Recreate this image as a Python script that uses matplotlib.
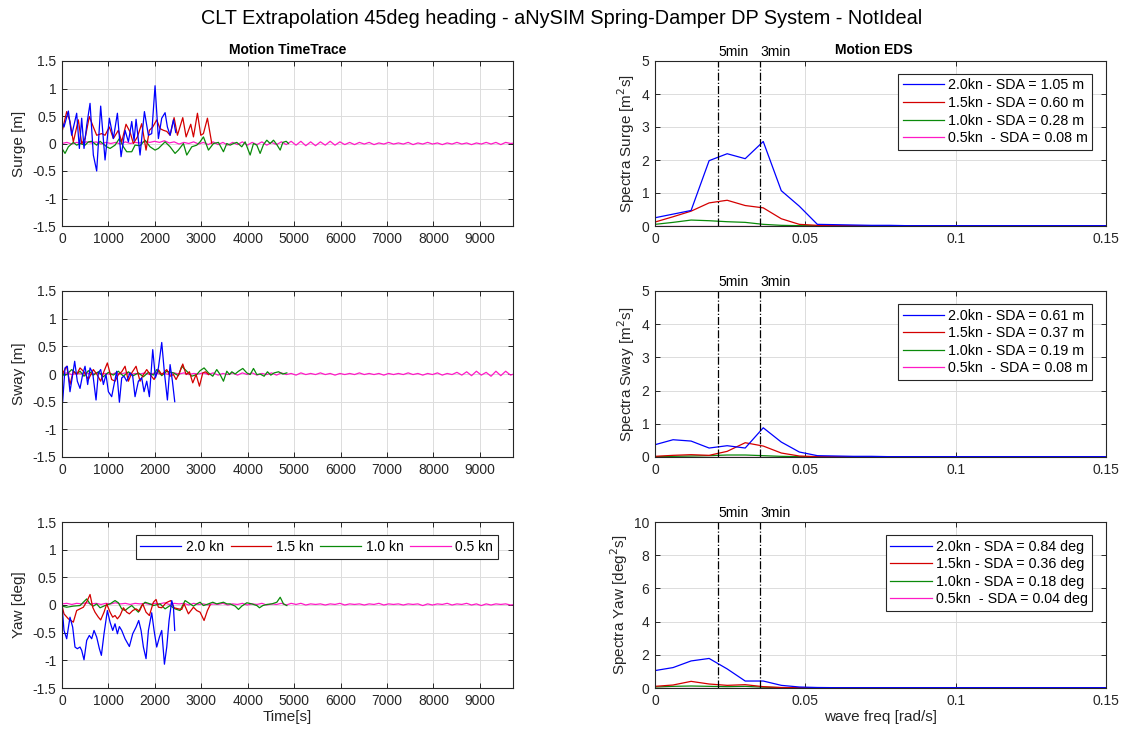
import numpy as np
import matplotlib
matplotlib.use("Agg")
import matplotlib.pyplot as plt
from matplotlib.ticker import FuncFormatter

plt.rcParams['font.family'] = ['Liberation Sans', 'DejaVu Sans']
plt.rcParams['axes.unicode_minus'] = False

# ---------------- time traces ----------------
surge_t_20 = [0, 43, 137, 208, 316, 374, 424, 474, 532, 604, 675, 747, 833, 927, 1020, 1106, 1193, 1272,
              1358, 1430, 1502, 1552, 1595, 1681, 1775, 1861, 1932, 2004, 2076, 2148, 2220, 2270, 2328, 2400, 2450]
surge_v_20 = [0.40, 0.30, 0.59, 0.15, 0.55, -0.09, 0.46, -0.09, 0.33, 0.73, -0.21, -0.50, 0.68, -0.30, 0.46, 0.09,
              0.55, -0.24, 0.24, 0.03, 0.40, 0.05, 0.44, -0.21, 0.58, 0.15, 0.18, 1.05, 0.09, 0.46, 0.56, 0.30,
              0.15, 0.43, 0.20]
surge_t_15 = [0, 101, 172, 244, 352, 424, 496, 589, 675, 747, 855, 927, 1020, 1106, 1214, 1286, 1379, 1465,
              1537, 1624, 1717, 1810, 1882, 1954, 2040, 2112, 2184, 2256, 2328, 2414, 2486, 2601, 2673, 2773,
              2831, 2917, 2989, 3046, 3132, 3226]
surge_v_15 = [0.21, 0.58, 0.40, 0.03, 0.43, 0.00, 0.09, 0.49, 0.30, 0.15, 0.18, 0.15, 0.30, 0.09, 0.24, 0.03,
              0.35, 0.21, 0.00, 0.12, 0.36, -0.12, 0.24, 0.30, 0.43, 0.27, 0.24, 0.22, 0.15, 0.47, 0.15, 0.47,
              0.12, 0.35, 0.12, 0.55, 0.15, 0.18, 0.46, 0.00]
surge_t_10 = [0, 65, 137, 244, 316, 388, 496, 568, 639, 747, 819, 963, 1035, 1142, 1236, 1322, 1394, 1502,
              1573, 1681, 1789, 1897, 2004, 2076, 2148, 2220, 2328, 2435, 2507, 2615, 2687, 2795, 2902, 2974,
              3046, 3154, 3262, 3369, 3477, 3549, 3621, 3693, 3765, 3872, 3944, 4052, 4124, 4196, 4267, 4339,
              4411, 4483, 4555, 4627, 4699, 4756, 4828, 4878]
surge_v_10 = [-0.09, -0.18, -0.06, 0.02, -0.03, 0.00, -0.03, 0.03, 0.04, -0.03, 0.04, -0.06, -0.09, -0.03,
              0.09, -0.06, -0.15, -0.15, -0.03, -0.04, 0.06, -0.06, -0.12, -0.09, -0.03, 0.03, -0.06, -0.18,
              -0.12, 0.00, -0.21, -0.06, -0.03, 0.03, 0.12, -0.12, 0.00, 0.02, -0.15, 0.00, -0.03, 0.00, 0.02,
              -0.06, 0.03, -0.21, 0.00, -0.03, -0.18, -0.02, 0.06, 0.00, 0.06, -0.02, -0.12, 0.02, 0.04, 0.00]
surge_v_05 = [0.00, 0.02, -0.01, 0.02, 0.00, 0.03, 0.01, 0.03, -0.01, 0.02,
              0.00, 0.02, -0.01, 0.03, 0.00, 0.02, 0.01, 0.04, 0.02, 0.04,
              0.02, 0.05, 0.01, 0.03, -0.01, 0.02, 0.00, 0.03, -0.01, 0.02,
              -0.02, 0.03, -0.02, 0.02, -0.03, 0.02, -0.02, 0.03, -0.03, 0.02,
              -0.02, 0.03, -0.03, 0.02, -0.02, 0.03, -0.02, 0.04, -0.03, 0.04,
              -0.04, 0.03, -0.04, 0.03, -0.03, 0.04, -0.03, 0.03, -0.02, 0.02,
              -0.02, 0.02, -0.01, 0.02, -0.02, 0.01, -0.01, 0.02, -0.01, 0.01,
              -0.01, 0.02, -0.02, 0.01, -0.01, 0.02, -0.01, 0.01, -0.02, 0.01,
              -0.01, 0.02, -0.01, 0.01, -0.02, 0.01, -0.01, 0.02, -0.01, 0.02,
              -0.02, 0.02, 0.00, 0.01]

sway_t_20 = [0, 14, 65, 115, 172, 230, 273, 330, 388, 445, 496, 553, 604, 661, 733, 783, 833, 891, 948, 999,
             1070, 1121, 1178, 1236, 1286, 1336, 1394, 1465, 1523, 1573, 1645, 1717, 1767, 1825, 1882, 1954,
             2012, 2076, 2148, 2206, 2270, 2328, 2378, 2428]
sway_v_20 = [0.00, -0.50, 0.11, 0.14, -0.32, -0.01, 0.23, -0.13, -0.26, -0.01, 0.14, -0.19, 0.11, 0.02, -0.47,
             0.02, 0.08, -0.19, -0.01, -0.32, -0.41, -0.19, 0.05, -0.51, -0.07, -0.04, -0.13, 0.02, -0.04,
             -0.41, -0.13, -0.07, -0.32, -0.13, -0.41, 0.44, -0.07, 0.11, 0.57, 0.02, -0.47, 0.17, -0.13, -0.50]
sway_t_15 = [0, 101, 172, 244, 316, 388, 474, 568, 675, 747, 833, 891, 977, 1070, 1142, 1214, 1286, 1358,
             1430, 1502, 1595, 1681, 1753, 1825, 1897, 1983, 2076, 2148, 2256, 2328, 2400, 2457, 2529, 2601,
             2673, 2744, 2816, 2888, 2960, 3032, 3089, 3161]
sway_v_15 = [-0.01, 0.14, -0.19, 0.05, -0.01, 0.11, 0.04, -0.10, 0.08, 0.00, -0.13, 0.02, 0.20, -0.10, -0.13,
             -0.01, 0.04, 0.14, -0.13, 0.02, 0.14, -0.13, -0.01, 0.08, -0.01, -0.10, 0.08, -0.01, 0.08, -0.04,
             -0.01, -0.10, 0.02, 0.18, -0.01, 0.04, -0.16, -0.01, -0.22, 0.02, 0.04, -0.01]
sway_t_10 = [0, 43, 101, 208, 316, 388, 474, 568, 675, 783, 891, 999, 1106, 1214, 1322, 1430, 1537, 1645,
             1753, 1861, 1968, 2040, 2148, 2256, 2400, 2507, 2579, 2687, 2795, 2902, 2974, 3060, 3154, 3247,
             3333, 3405, 3477, 3549, 3607, 3657, 3729, 3801, 3894, 3980, 4052, 4124, 4196, 4267, 4353, 4425,
             4497, 4569, 4663, 4756, 4842]
sway_v_10 = [0.05, -0.03, -0.01, 0.08, 0.00, 0.05, -0.04, 0.06, -0.02, 0.04, -0.05, 0.03, -0.02, 0.05, -0.04,
             0.04, -0.03, 0.02, -0.05, 0.03, -0.02, 0.08, -0.03, 0.05, 0.02, -0.03, 0.14, 0.05, -0.04, -0.01,
             0.06, 0.11, 0.02, -0.04, 0.08, -0.01, -0.13, 0.05, -0.01, 0.04, 0.00, 0.05, 0.10, 0.02, -0.01,
             0.10, -0.01, 0.00, -0.04, 0.04, -0.02, 0.02, 0.04, 0.00, 0.02]
sway_v_05 = [0.00, 0.02, -0.01, 0.01, 0.00, 0.02, -0.01, 0.02, 0.00, 0.01,
             -0.01, 0.02, 0.00, 0.02, -0.01, 0.01, 0.00, 0.02, -0.01, 0.02,
             0.00, 0.01, -0.01, 0.02, 0.00, 0.02, -0.01, 0.01, 0.00, 0.02,
             -0.01, 0.02, -0.02, 0.01, -0.01, 0.02, -0.02, 0.02, -0.01, 0.02,
             -0.02, 0.01, -0.01, 0.02, -0.02, 0.02, -0.01, 0.01, -0.02, 0.02,
             -0.01, 0.01, -0.01, 0.02, -0.01, 0.01, -0.02, 0.01, -0.01, 0.01,
             -0.01, 0.02, -0.01, 0.01, -0.01, 0.01, -0.02, 0.01, -0.01, 0.01,
             -0.01, 0.02, -0.01, 0.01, -0.02, 0.01, -0.01, 0.02, -0.02, 0.01,
             -0.01, 0.03, -0.02, 0.04, -0.03, 0.05, -0.02, 0.03, -0.04, 0.05,
             -0.03, 0.05, -0.02, 0.01]

yaw_t_20 = [0, 43, 101, 172, 230, 280, 330, 388, 424, 474, 532, 589, 639, 690, 747, 805, 848, 905, 977, 1035,
            1092, 1142, 1193, 1236, 1286, 1358, 1451, 1523, 1595, 1652, 1703, 1753, 1810, 1861, 1932, 1983,
            2040, 2098, 2148, 2206, 2256, 2306, 2364, 2400, 2428]
yaw_v_20 = [-0.01, -0.46, -0.61, -0.22, -0.40, -0.76, -0.79, -0.76, -0.82, -0.99, -0.64, -0.55, -0.61, -0.46,
            -0.58, -0.79, -0.91, -0.52, -0.10, -0.31, -0.46, -0.34, -0.52, -0.39, -0.46, -0.61, -0.75, -0.52,
            -0.40, -0.28, -0.46, -0.76, -0.97, -0.46, -0.14, -0.46, -0.76, -0.58, -0.46, -1.07, -0.76, -0.28,
            0.08, -0.04, -0.46]
yaw_t_15 = [0, 43, 137, 244, 316, 388, 460, 546, 604, 661, 711, 783, 833, 905, 963, 1035, 1092, 1142, 1193,
            1250, 1322, 1394, 1451, 1523, 1595, 1667, 1739, 1810, 1882, 1968, 2026, 2076, 2148, 2241, 2342,
            2414, 2507, 2579, 2629, 2723, 2831, 2902, 2974, 3060, 3132, 3190]
yaw_v_15 = [-0.01, -0.16, -0.25, -0.31, -0.10, -0.07, -0.04, 0.08, 0.19, -0.04, -0.13, -0.22, -0.27, -0.13,
            0.02, -0.13, -0.22, -0.19, -0.25, -0.19, -0.05, -0.13, -0.16, -0.10, -0.07, -0.11, 0.02, -0.13,
            -0.19, 0.05, 0.10, -0.04, -0.05, 0.04, 0.08, -0.05, -0.07, -0.08, 0.02, -0.16, -0.04, -0.10,
            -0.13, -0.28, -0.10, 0.00]
yaw_t_10 = [0, 101, 244, 388, 460, 532, 604, 675, 747, 819, 927, 1035, 1142, 1214, 1286, 1358, 1430, 1502,
            1573, 1645, 1717, 1789, 1897, 1968, 2112, 2220, 2328, 2435, 2543, 2651, 2723, 2831, 2902, 2974,
            3046, 3154, 3247, 3333, 3477, 3549, 3621, 3729, 3801, 3872, 3980, 4088, 4196, 4253, 4325, 4411,
            4519, 4627, 4699, 4770, 4842]
yaw_v_10 = [-0.02, -0.04, -0.02, -0.01, 0.05, 0.11, 0.02, -0.02, 0.02, -0.05, -0.01, 0.02, 0.08, 0.04, -0.07,
            -0.10, -0.05, -0.01, -0.07, -0.13, -0.01, 0.05, 0.02, -0.01, 0.02, -0.07, -0.01, -0.07, -0.10,
            0.08, 0.04, -0.02, 0.02, 0.05, -0.01, 0.02, 0.05, 0.02, 0.05, 0.02, 0.02, -0.02, -0.08, -0.02,
            0.04, 0.02, -0.01, -0.05, -0.01, 0.01, 0.02, 0.05, 0.14, 0.02, -0.01]
yaw_v_05 = [0.02, 0.03, 0.01, 0.03, 0.02, 0.04, 0.02, 0.03, 0.01, 0.03,
            0.02, 0.04, 0.02, 0.03, 0.01, 0.03, 0.02, 0.03, 0.01, 0.03,
            0.02, 0.04, 0.01, 0.03, 0.02, 0.03, 0.00, 0.03, 0.01, 0.02,
            0.00, 0.02, 0.01, 0.03, 0.00, 0.02, 0.01, 0.03, 0.00, 0.02,
            0.01, 0.03, 0.00, 0.02, 0.01, 0.03, 0.00, 0.03, 0.01, 0.03,
            0.00, 0.02, 0.01, 0.02, 0.00, 0.02, 0.01, 0.03, 0.00, 0.02,
            0.01, 0.02, 0.00, 0.02, 0.01, 0.03, 0.00, 0.02, 0.01, 0.02,
            0.00, 0.02, 0.01, 0.02, -0.01, 0.02, 0.00, 0.02, 0.01, 0.03,
            0.00, 0.02, 0.01, 0.03, 0.00, 0.02, -0.01, 0.02, 0.00, 0.02,
            0.01, 0.02, 0.00, 0.01]
mag_dt = 105.0  # sample spacing of the 0.5 kn records [s]

# ---------------- energy density spectra ----------------
freq = [0.000, 0.006, 0.012, 0.018, 0.024, 0.030, 0.036, 0.042, 0.048, 0.054, 0.060, 0.066, 0.072,
        0.078, 0.084, 0.090, 0.096, 0.102, 0.108, 0.114, 0.120, 0.126, 0.132, 0.138, 0.144, 0.150]
eds_surge_20 = [0.25, 0.36, 0.47, 1.98, 2.19, 2.04, 2.56, 1.07, 0.60, 0.05, 0.04, 0.03, 0.02, 0.02, 0.01,
                0.01, 0.01, 0.01, 0.01, 0.01, 0.01, 0.01, 0.01, 0.01, 0.01, 0.01]
eds_surge_15 = [0.12, 0.28, 0.45, 0.70, 0.78, 0.62, 0.55, 0.22, 0.05, 0.02, 0.01, 0.01, 0.01, 0.01, 0.01,
                0.01, 0.01, 0.01, 0.01, 0.01, 0.01, 0.01, 0.01, 0.01, 0.01, 0.01]
eds_surge_10 = [0.05, 0.11, 0.18, 0.16, 0.13, 0.11, 0.05, 0.02, 0.01, 0.01, 0.01, 0.01, 0.00, 0.00, 0.00,
                0.00, 0.00, 0.00, 0.00, 0.00, 0.00, 0.00, 0.00, 0.00, 0.00, 0.00]
eds_surge_05 = [0.01, 0.01, 0.01, 0.01, 0.01, 0.01, 0.01, 0.01, 0.01, 0.01, 0.01, 0.01, 0.01, 0.01, 0.01,
                0.01, 0.01, 0.01, 0.01, 0.01, 0.01, 0.01, 0.01, 0.01, 0.01, 0.01]

eds_sway_20 = [0.37, 0.52, 0.48, 0.27, 0.34, 0.27, 0.88, 0.45, 0.15, 0.04, 0.03, 0.02, 0.02, 0.01, 0.01,
               0.01, 0.01, 0.01, 0.01, 0.01, 0.01, 0.01, 0.01, 0.01, 0.01, 0.01]
eds_sway_15 = [0.02, 0.05, 0.07, 0.05, 0.17, 0.43, 0.33, 0.12, 0.03, 0.01, 0.01, 0.01, 0.01, 0.01, 0.01,
               0.01, 0.01, 0.01, 0.01, 0.01, 0.01, 0.01, 0.01, 0.01, 0.01, 0.01]
eds_sway_10 = [0.01, 0.02, 0.03, 0.04, 0.06, 0.06, 0.04, 0.02, 0.01, 0.01, 0.00, 0.00, 0.00, 0.00, 0.00,
               0.00, 0.00, 0.00, 0.00, 0.00, 0.00, 0.00, 0.00, 0.00, 0.00, 0.00]
eds_sway_05 = [0.01, 0.01, 0.01, 0.01, 0.01, 0.01, 0.01, 0.01, 0.01, 0.01, 0.01, 0.01, 0.01, 0.01, 0.01,
               0.01, 0.01, 0.01, 0.01, 0.01, 0.01, 0.01, 0.01, 0.01, 0.01, 0.01]

eds_yaw_20 = [1.05, 1.23, 1.63, 1.78, 1.15, 0.42, 0.42, 0.16, 0.06, 0.03, 0.02, 0.02, 0.02, 0.02, 0.02,
              0.02, 0.02, 0.02, 0.02, 0.02, 0.02, 0.02, 0.02, 0.02, 0.02, 0.02]
eds_yaw_15 = [0.10, 0.18, 0.40, 0.24, 0.16, 0.20, 0.08, 0.03, 0.02, 0.01, 0.01, 0.01, 0.01, 0.01, 0.01,
              0.01, 0.01, 0.01, 0.01, 0.01, 0.01, 0.01, 0.01, 0.01, 0.01, 0.01]
eds_yaw_10 = [0.06, 0.10, 0.12, 0.10, 0.08, 0.10, 0.05, 0.02, 0.01, 0.01, 0.00, 0.00, 0.00, 0.00, 0.00,
              0.00, 0.00, 0.00, 0.00, 0.00, 0.00, 0.00, 0.00, 0.00, 0.00, 0.00]
eds_yaw_05 = [0.02, 0.02, 0.02, 0.02, 0.02, 0.02, 0.02, 0.02, 0.02, 0.02, 0.02, 0.02, 0.02, 0.02, 0.02,
              0.02, 0.02, 0.02, 0.02, 0.02, 0.02, 0.02, 0.02, 0.02, 0.02, 0.02]

speed_labels = ['2.0 kn', '1.5 kn', '1.0 kn', '0.5 kn']
sda_surge = ['2.0kn - SDA = 1.05 m', '1.5kn - SDA = 0.60 m', '1.0kn - SDA = 0.28 m', '0.5kn  - SDA = 0.08 m']
sda_sway = ['2.0kn - SDA = 0.61 m', '1.5kn - SDA = 0.37 m', '1.0kn - SDA = 0.19 m', '0.5kn  - SDA = 0.08 m']
sda_yaw = ['2.0kn - SDA = 0.84 deg', '1.5kn - SDA = 0.36 deg', '1.0kn - SDA = 0.18 deg',
           '0.5kn  - SDA = 0.04 deg']
period_marks = [300.0, 180.0]  # wave periods [s] marked on the spectra
period_names = ['5min', '3min']

colors = ['#0000FF', '#D40000', '#0A8A0A', '#FF1AC6']
AXC = '#262626'

fig = plt.figure(figsize=(11.24, 7.35), dpi=100)
W, H = 1124.0, 735.0


def add_ax(x0, y0, x1, y1):
    return fig.add_axes([x0 / W, 1 - y1 / H, (x1 - x0) / W, (y1 - y0) / H])


fmt = FuncFormatter(lambda v, p: ('%g' % round(v, 6)))


def style(ax):
    ax.grid(True, color='#dcdcdc', lw=0.7)
    ax.set_axisbelow(True)
    ax.tick_params(direction='in', top=True, right=True, length=3.5, width=0.7,
                   colors=AXC, labelsize=10, pad=4)
    for s in ax.spines.values():
        s.set_color(AXC)
        s.set_linewidth(0.8)
    ax.xaxis.set_major_formatter(fmt)
    ax.yaxis.set_major_formatter(fmt)


rows = [(61, 226), (291, 457), (522, 688)]
left_x = (62, 513)
right_x = (655, 1106)

time_sets = [
    [(surge_t_20, surge_v_20), (surge_t_15, surge_v_15), (surge_t_10, surge_v_10), (None, surge_v_05)],
    [(sway_t_20, sway_v_20), (sway_t_15, sway_v_15), (sway_t_10, sway_v_10), (None, sway_v_05)],
    [(yaw_t_20, yaw_v_20), (yaw_t_15, yaw_v_15), (yaw_t_10, yaw_v_10), (None, yaw_v_05)],
]
ylabels_t = ['Surge [m]', 'Sway [m]', 'Yaw [deg]']
eds_sets = [
    [eds_surge_20, eds_surge_15, eds_surge_10, eds_surge_05],
    [eds_sway_20, eds_sway_15, eds_sway_10, eds_sway_05],
    [eds_yaw_20, eds_yaw_15, eds_yaw_10, eds_yaw_05],
]
ylabels_s = ['Spectra Surge [m$^{2}$s]', 'Spectra Sway [m$^{2}$s]', 'Spectra Yaw [deg$^{2}$s]']
sda_sets = [sda_surge, sda_sway, sda_yaw]
ymax_s = [5, 5, 10]

for r, (y0, y1) in enumerate(rows):
    # time trace
    ax = add_ax(left_x[0], y0, left_x[1], y1)
    style(ax)
    handles = []
    for k in range(3, -1, -1):
        t, v = time_sets[r][k]
        if t is None:
            t = np.arange(len(v)) * mag_dt
        h, = ax.plot(t, v, color=colors[k], lw=0.9)
        handles.append(h)
    handles = handles[::-1]
    ax.set_xlim(0, 9713)
    ax.set_ylim(-1.5, 1.5)
    ax.set_xticks(np.arange(0, 9001, 1000))
    ax.set_yticks([-1.5, -1, -0.5, 0, 0.5, 1, 1.5])
    ax.set_ylabel(ylabels_t[r], fontsize=11, color=AXC, labelpad=5)
    if r == 0:
        ax.set_title('Motion TimeTrace', fontsize=10, fontweight='bold', pad=5, color='k')
    if r == 2:
        ax.set_xlabel('Time[s]', fontsize=11, color=AXC, labelpad=2)
        leg = ax.legend(handles, speed_labels, ncol=4, loc='upper right', fontsize=10,
                        bbox_to_anchor=(0.967, 0.92), handlelength=2.9, columnspacing=0.5,
                        handletextpad=0.35, borderpad=0.35, fancybox=False, framealpha=1,
                        borderaxespad=0)
        leg.get_frame().set_edgecolor(AXC)
        leg.get_frame().set_linewidth(0.8)

    # spectrum
    ax2 = add_ax(right_x[0], y0, right_x[1], y1)
    style(ax2)
    hs = []
    for k in range(3, -1, -1):
        h, = ax2.plot(freq, eds_sets[r][k], color=colors[k], lw=0.9)
        hs.append(h)
    hs = hs[::-1]
    ax2.set_xlim(0, 0.15)
    ax2.set_ylim(0, ymax_s[r])
    ax2.set_xticks([0, 0.05, 0.1, 0.15])
    for per, name in zip(period_marks, period_names):
        w = 2 * np.pi / per
        ax2.axvline(w, color='k', ls='-.', lw=0.9)
        ax2.text(w + 0.0003, ymax_s[r] * 1.01, name, ha='left', va='bottom', fontsize=10, color='k')
    ax2.set_ylabel(ylabels_s[r], fontsize=11, color=AXC, labelpad=3)
    if r == 0:
        ax2.set_title('Motion EDS', fontsize=10, fontweight='bold', pad=5, color='k', x=0.485)
    if r == 2:
        ax2.set_xlabel('wave freq [rad/s]', fontsize=11, color=AXC, labelpad=2)
    leg2 = ax2.legend(hs, sda_sets[r], loc='upper right', fontsize=10.3,
                      bbox_to_anchor=(0.97, 0.92), handlelength=2.9, handletextpad=0.3,
                      labelspacing=0.25, borderpad=0.3, fancybox=False, framealpha=1,
                      borderaxespad=0)
    leg2.get_frame().set_edgecolor(AXC)
    leg2.get_frame().set_linewidth(0.8)

fig.text(0.5, 1 - 19 / H, 'CLT Extrapolation 45deg heading - aNySIM Spring-Damper DP System - NotIdeal',
         ha='center', va='center', fontsize=14.3, color='k')

fig.savefig('out.png', dpi=100, facecolor='white')
